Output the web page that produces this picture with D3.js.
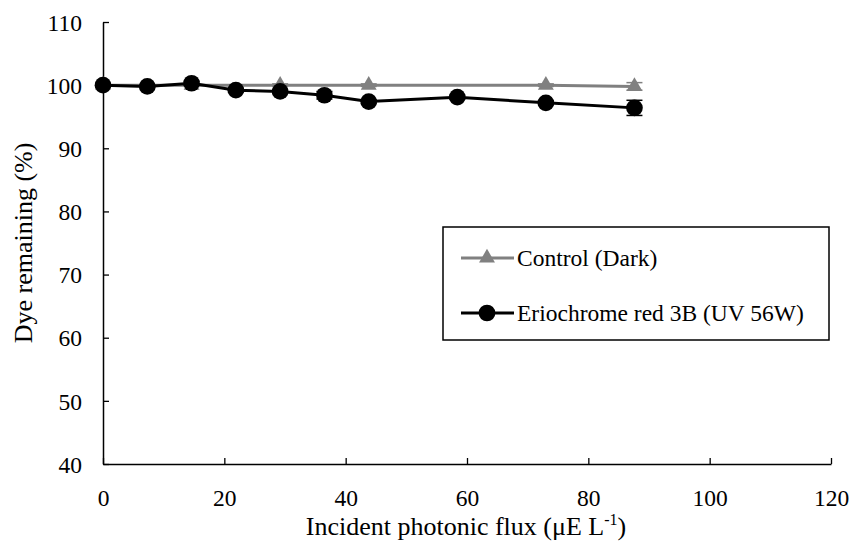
<!DOCTYPE html>
<html>
<head>
<meta charset="utf-8">
<script src="https://cdn.jsdelivr.net/npm/d3@7"></script>
<style>
  body { margin: 0; background: #fff; }
  svg { display: block; font-family: "Liberation Serif", "Times New Roman", serif; }
</style>
</head>
<body>
<svg id="chart" width="854" height="546"></svg>
<script>
// Incident photonic flux (µE L^-1)
const fluxDye = [0, 7.3, 14.6, 21.9, 29.2, 36.5, 43.8, 58.4, 73.0, 87.6];
const dyeRemaining = [100, 99.8, 100.3, 99.2, 99.0, 98.4, 97.4, 98.1, 97.2, 96.4];
const dyeError = [0.2, 0.2, 0.3, 0.3, 0.3, 0.6, 0.3, 0.3, 0.3, 1.2];

const fluxControl = [0, 14.6, 29.2, 43.8, 73.0, 87.6];
const controlRemaining = [100, 100, 100, 100, 100, 99.8];
const controlError = [0.2, 0.2, 0.2, 0.2, 0.2, 0.6];

const xTicks = [0, 20, 40, 60, 80, 100, 120];
const yTicks = [40, 50, 60, 70, 80, 90, 100, 110];

const seriesNames = ["Control (Dark)", "Eriochrome red 3B (UV 56W)"];
const grey = "#808080";
const serif = "Liberation Serif, Times New Roman, serif";

const svg = d3.select("#chart");
const x = d3.scaleLinear().domain([0, 120]).range([103, 831]);
const y = d3.scaleLinear().domain([40, 110]).range([464, 22]);

// axes with inward ticks
const xAxis = svg.append("g").attr("transform", `translate(0,${y(40)})`)
  .call(d3.axisBottom(x).tickValues(xTicks).tickSize(-6).tickPadding(25).tickSizeOuter(0));
const yAxis = svg.append("g").attr("transform", `translate(${x(0)},0)`)
  .call(d3.axisLeft(y).tickValues(yTicks).tickSize(-6).tickPadding(21).tickSizeOuter(0));
[xAxis, yAxis].forEach(a => {
  a.attr("font-family", serif);
  a.selectAll("path").attr("stroke", "#000").attr("stroke-width", 1.5);
  a.selectAll("line").attr("stroke", "#000").attr("stroke-width", 1.3);
  a.selectAll("text").attr("font-size", 23.5).attr("fill", "#000").attr("font-family", serif);
});
xAxis.selectAll("text").attr("dy", "0.71em");
yAxis.selectAll("text").attr("dy", "0.35em");

// axis titles
const xt = svg.append("text").attr("x", 466).attr("y", 535).attr("text-anchor", "middle")
  .attr("font-size", 26);
xt.append("tspan").text("Incident photonic flux (μE L");
xt.append("tspan").attr("font-size", 16).attr("dy", -10).text("-1");
xt.append("tspan").attr("dy", 10).text(")");

svg.append("text").attr("transform", "translate(32,243) rotate(-90)")
  .attr("text-anchor", "middle").attr("font-size", 26).text("Dye remaining (%)");

const line = d3.line().x(d => x(d[0])).y(d => y(d[1]));

function drawSeries(xs, ys, es, color, shape) {
  const pts = xs.map((v, i) => [v, ys[i], es[i]]);
  const g = svg.append("g");
  // error bars
  const eb = g.selectAll(".eb").data(pts).enter().append("g");
  eb.append("line").attr("x1", d => x(d[0])).attr("x2", d => x(d[0]))
    .attr("y1", d => y(d[1] - d[2])).attr("y2", d => y(d[1] + d[2]))
    .attr("stroke", color).attr("stroke-width", 1.2);
  [-1, 1].forEach(s => eb.append("line")
    .attr("x1", d => x(d[0]) - 8).attr("x2", d => x(d[0]) + 8)
    .attr("y1", d => y(d[1] + s * d[2])).attr("y2", d => y(d[1] + s * d[2]))
    .attr("stroke", color).attr("stroke-width", 1.5));
  g.append("path").datum(pts).attr("d", line).attr("fill", "none")
    .attr("stroke", color).attr("stroke-width", 3);
  g.selectAll(".m").data(pts).enter().append("path")
    .attr("transform", d => `translate(${x(d[0])},${y(d[1])})`)
    .attr("d", d3.symbol().type(shape === "tri" ? d3.symbolTriangle : d3.symbolCircle)
      .size(shape === "tri" ? 110 : 220))
    .attr("fill", color);
}

drawSeries(fluxControl, controlRemaining, controlError, grey, "tri");
drawSeries(fluxDye, dyeRemaining, dyeError, "#000", "circle");

// legend
const lg = svg.append("g");
lg.append("rect").attr("x", 443).attr("y", 227).attr("width", 386).attr("height", 113)
  .attr("fill", "#fff").attr("stroke", "#000").attr("stroke-width", 1.5);
const legendRows = [
  { name: seriesNames[0], color: grey, shape: d3.symbolTriangle, size: 110, yy: 258 },
  { name: seriesNames[1], color: "#000", shape: d3.symbolCircle, size: 220, yy: 313 }
];
legendRows.forEach(r => {
  lg.append("line").attr("x1", 461).attr("x2", 514).attr("y1", r.yy).attr("y2", r.yy)
    .attr("stroke", r.color).attr("stroke-width", 3);
  lg.append("path").attr("transform", `translate(487,${r.yy})`)
    .attr("d", d3.symbol().type(r.shape).size(r.size)).attr("fill", r.color);
  lg.append("text").attr("x", 517).attr("y", r.yy).attr("dy", "0.35em")
    .attr("font-size", 23.5).text(r.name);
});
</script>
</body>
</html>
